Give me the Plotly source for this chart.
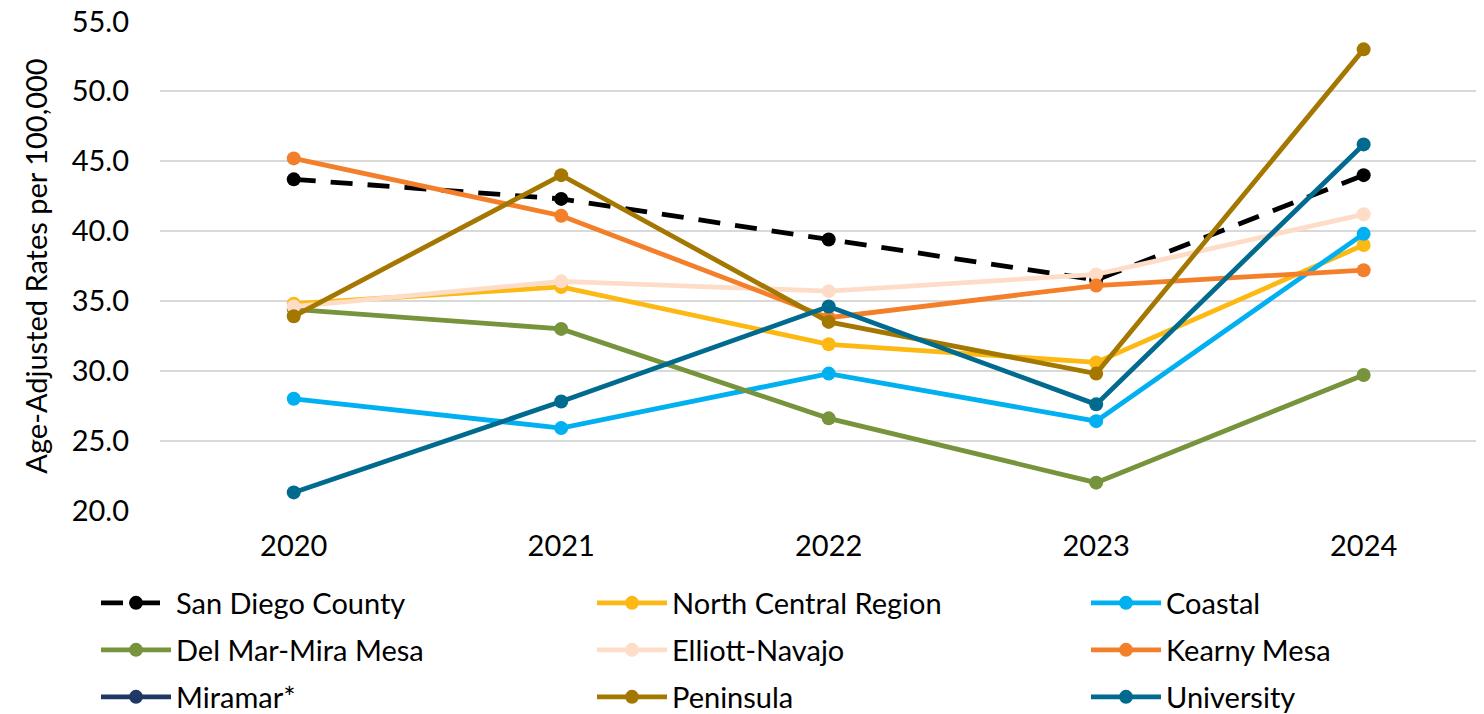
import plotly.graph_objects as go

years = ["2020", "2021", "2022", "2023", "2024"]

san_diego_county = [43.7, 42.3, 39.4, 36.5, 44.0]
north_central = [34.8, 36.0, 31.9, 30.6, 39.0]
coastal = [28.0, 25.9, 29.8, 26.4, 39.8]
del_mar_mira_mesa = [34.4, 33.0, 26.6, 22.0, 29.7]
elliott_navajo = [34.6, 36.4, 35.7, 36.9, 41.2]
kearny_mesa = [45.2, 41.1, 33.8, 36.1, 37.2]
miramar = [None, None, None, None, None]
peninsula = [33.9, 44.0, 33.5, 29.8, 53.0]
university = [21.3, 27.8, 34.6, 27.6, 46.2]

y_ticks = [20, 25, 30, 35, 40, 45, 50, 55]

series = [
    ("San Diego County", san_diego_county, "#000000"),
    ("North Central Region", north_central, "#FDB913"),
    ("Coastal", coastal, "#00B0F0"),
    ("Del Mar-Mira Mesa", del_mar_mira_mesa, "#77933C"),
    ("Elliott-Navajo", elliott_navajo, "#FDDDC8"),
    ("Kearny Mesa", kearny_mesa, "#F47F2A"),
    ("Miramar*", miramar, "#1F3864"),
    ("Peninsula", peninsula, "#A47800"),
    ("University", university, "#006A8F"),
]

FONT = "Lato, Calibri, Carlito, sans-serif"
FS = 29

# page has an 8px body margin; work in page pixels and convert
OFF = 8
PAGE_W, PAGE_H = 1484, 714
W, H = PAGE_W - OFF, PAGE_H - OFF
plot_left, plot_right = 160 - OFF, PAGE_W - OFF
y_lo, y_hi = 19.97, 55.03
px_per_unit = 490 / 35.0
plot_top = round(21 - (y_hi - 55) * px_per_unit) - OFF
plot_bot = round(511 + (20 - y_lo) * px_per_unit) - OFF
pw = plot_right - plot_left
ph = plot_bot - plot_top

def lx(page_px):
    return (page_px - OFF - plot_left) / pw

def ly(page_py):
    return (plot_bot - (page_py - OFF)) / ph

col_x = [96, 592, 1086]
row_y = [603, 650, 697]

fig = go.Figure()
layout_legends = {}
for i, (name, vals, color) in enumerate(series):
    dash = "22px,15px" if name == "San Diego County" else "solid"
    leg = "legend" if i == 0 else f"legend{i + 1}"
    fig.add_trace(go.Scatter(
        x=years, y=vals, name=name, mode="lines+markers",
        line=dict(color=color, width=4.8, dash=dash),
        marker=dict(color=color, size=14),
        legend=leg,
    ))
    r, c = divmod(i, 3)
    layout_legends[leg] = dict(
        orientation="h", xanchor="left", yanchor="middle",
        x=lx(col_x[c]), y=ly(row_y[r]),
        itemwidth=70, font=dict(family=FONT, size=FS, color="#000000"),
        bgcolor="rgba(0,0,0,0)",
    )

fig.update_layout(
    width=W, height=H,
    margin=dict(l=plot_left, r=W - plot_right, t=plot_top, b=H - plot_bot,
                autoexpand=False),
    paper_bgcolor="white", plot_bgcolor="white",
    font=dict(family=FONT, size=FS, color="#000000"),
    showlegend=True,
    xaxis=dict(
        type="category", range=[-0.5, 4.45],
        showgrid=False, zeroline=False, showline=False,
        ticks="", ticklabelstandoff=15,
        tickfont=dict(family=FONT, size=FS, color="#000000"),
    ),
    yaxis=dict(
        range=[y_lo, y_hi], tickvals=y_ticks,
        ticktext=[f"{v:.1f}" for v in y_ticks],
        showgrid=True, gridcolor="#D9D9D9", gridwidth=1.5,
        zeroline=False, showline=False, ticks="",
        ticklabelstandoff=30, ticklabeloverflow="allow",
        tickfont=dict(family=FONT, size=FS, color="#000000"),
        title=dict(text="Age-Adjusted Rates per 100,000",
                   font=dict(family=FONT, size=FS, color="#000000"),
                   standoff=15),
    ),
    **layout_legends,
)

fig.write_html("out.html")
